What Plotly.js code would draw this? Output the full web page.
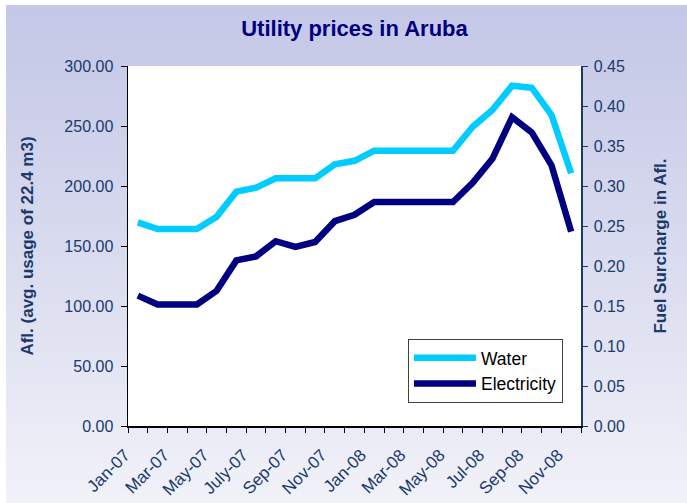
<!DOCTYPE html>
<html>
<head>
<meta charset="utf-8">
<script src="https://cdn.plot.ly/plotly-3.0.1.min.js"></script>
<style>
  html, body { margin:0; padding:0; background:#ffffff; overflow:hidden; }
  #bg { position:absolute; left:6px; top:5px; right:0; bottom:0;
        background:linear-gradient(to bottom, #c4c7e6 0%, #d9dbef 50%, #f1f2f8 100%); }
  #chart { position:absolute; left:0; top:0; width:687px; height:503px; }
</style>
</head>
<body>
<div id="bg"></div>
<div id="chart"></div>
<script>
// ---- data ----
const months = ["Jan-07","Feb-07","Mar-07","Apr-07","May-07","Jun-07","July-07","Aug-07","Sep-07","Oct-07","Nov-07","Dec-07",
                "Jan-08","Feb-08","Mar-08","Apr-08","May-08","Jun-08","Jul-08","Aug-08","Sep-08","Oct-08","Nov-08"];
const tickLabels = ["Jan-07","","Mar-07","","May-07","","July-07","","Sep-07","","Nov-07","",
                    "Jan-08","","Mar-08","","May-08","","Jul-08","","Sep-08","","Nov-08"];
const water = [169.7, 164.2, 164.2, 164.2, 174.4, 195.3, 198.6, 206.4, 206.4, 206.4, 218.0, 221.0,
               229.4, 229.4, 229.4, 229.4, 229.4, 249.4, 263.3, 283.6, 281.9, 259.2, 210.6];
const electricity = [0.163, 0.152, 0.152, 0.152, 0.169, 0.207, 0.212, 0.231, 0.224, 0.230, 0.256, 0.264,
                     0.280, 0.280, 0.280, 0.280, 0.280, 0.304, 0.334, 0.386, 0.367, 0.326, 0.243];
const leftTicks = [0, 50, 100, 150, 200, 250, 300];
const rightTicks = [0, 0.05, 0.10, 0.15, 0.20, 0.25, 0.30, 0.35, 0.40, 0.45];

const FONT = "Liberation Sans, Arial, sans-serif";
const NAVY = "#1b3a6b";

const traces = [
  { x: months, y: water, name: "Water", type: "scatter", mode: "lines",
    line: { color: "#00ccff", width: 6.5 }, yaxis: "y", xaxis: "x" },
  { x: months, y: electricity, name: "Electricity", type: "scatter", mode: "lines",
    line: { color: "#000080", width: 6.5 }, yaxis: "y2", xaxis: "x" }
];

const layout = {
  width: 687, height: 503,
  margin: { l: 128, r: 106, t: 66, b: 77 },
  paper_bgcolor: "rgba(0,0,0,0)",
  plot_bgcolor: "#ffffff",
  font: { family: FONT, color: NAVY, size: 16 },
  title: { text: "Utility prices in Aruba", font: { family: FONT, size: 22, color: "#000080", weight: "bold" },
           xref: "paper", x: 0.5, xanchor: "center", yref: "container", y: 0.943, yanchor: "middle" },
  showlegend: true,
  legend: { x: 0.618, y: 0.153, xanchor: "left", yanchor: "middle", bgcolor: "#ffffff",
            bordercolor: "#404040", borderwidth: 1, font: { family: FONT, size: 17.5, color: "#000000" },
            itemwidth: 62, tracegroupgap: 0 },
  xaxis: {
    type: "category", range: [-0.5, months.length - 0.5],
    tickmode: "array", tickvals: months, ticktext: tickLabels, tickson: "boundaries",
    ticks: "outside", ticklen: 5, tickcolor: "#000000", tickwidth: 1,
    showline: true, linecolor: "#000000", linewidth: 1.5,
    showgrid: false, zeroline: false, tickangle: -45,
    ticklabelstandoff: 11, ticklabelshift: -13,
    tickfont: { family: FONT, size: 17, color: NAVY }
  },
  xaxis2: {
    overlaying: "x", anchor: "y", type: "linear", range: [-0.5, months.length - 0.5],
    tickmode: "linear", tick0: -0.5, dtick: 1, ticks: "inside", ticklen: 5, tickcolor: "#000000",
    showticklabels: false, showline: false, showgrid: false, zeroline: false, side: "bottom"
  },
  yaxis: {
    range: [0, 300], tickmode: "array", tickvals: leftTicks, ticktext: leftTicks.map(v => v.toFixed(2)),
    ticks: "outside", ticklen: 6, tickcolor: "#000000",
    showline: true, linecolor: "#000000", linewidth: 1.5,
    showgrid: false, zeroline: false, ticklabelstandoff: 4,
    tickfont: { family: FONT, size: 16, color: NAVY },
    title: { text: "Afl. (avg. usage of 22.4 m3)", font: { family: FONT, size: 17, color: NAVY, weight: "bold" }, standoff: 26 }
  },
  yaxis3: {
    overlaying: "y", anchor: "x", range: [0, 300], tickmode: "array", tickvals: [50, 100, 150, 200, 250],
    showticklabels: false, ticks: "", showline: false, zeroline: false,
    showgrid: true, gridcolor: "#8f8f8f", gridwidth: 1, griddash: "8px,5px"
  },
  yaxis2: {
    overlaying: "y", side: "right", anchor: "x", range: [0, 0.45],
    tickmode: "array", tickvals: rightTicks, ticktext: rightTicks.map(v => v.toFixed(2)),
    ticks: "outside", ticklen: 5, tickcolor: NAVY,
    showline: true, linecolor: NAVY, linewidth: 1.5,
    showgrid: false, zeroline: false, ticklabelstandoff: 3,
    tickfont: { family: FONT, size: 16, color: NAVY },
    title: { text: "Fuel Surcharge in Afl.", font: { family: FONT, size: 17, color: NAVY, weight: "bold" }, standoff: 30 }
  },
  yaxis4: {
    overlaying: "y", side: "right", anchor: "x", range: [0, 0.45],
    tickmode: "array", tickvals: rightTicks, ticks: "inside", ticklen: 5, tickcolor: NAVY,
    showticklabels: false, showline: false, showgrid: false, zeroline: false
  }
};

Plotly.newPlot("chart", traces, layout, { displayModeBar: false, staticPlot: true });
</script>
</body>
</html>
